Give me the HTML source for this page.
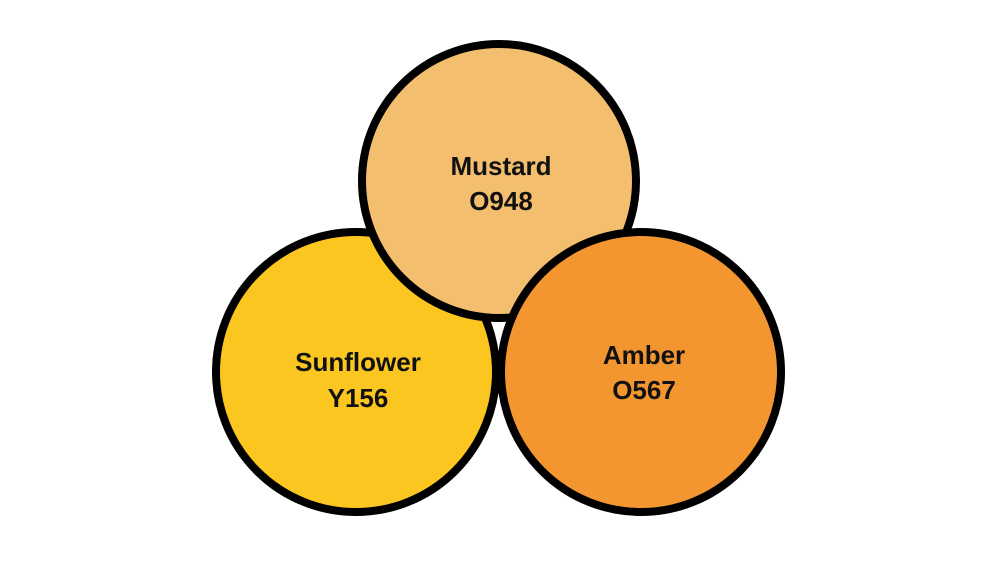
<!DOCTYPE html>
<html>
<head>
<meta charset="utf-8">
<style>
html,body{margin:0;padding:0;background:#fff;}
svg{display:block;}
text{font-family:"Liberation Sans",sans-serif;font-weight:bold;font-size:26px;fill:#111;text-anchor:middle;}
</style>
</head>
<body>
<svg width="1000" height="562" viewBox="0 0 1000 562" xmlns="http://www.w3.org/2000/svg">
  <rect width="1000" height="562" fill="#fff"/>
  <circle cx="356" cy="372" r="140" fill="#FCC620" stroke="#000" stroke-width="8"/>
  <circle cx="499" cy="181" r="137" fill="#F3BE6E" stroke="#000" stroke-width="8"/>
  <circle cx="641" cy="372" r="140" fill="#F3962F" stroke="#000" stroke-width="8"/>
  <text x="501" y="175">Mustard</text>
  <text x="501" y="210">O948</text>
  <text x="358" y="371">Sunflower</text>
  <text x="358" y="407">Y156</text>
  <text x="644" y="364">Amber</text>
  <text x="644" y="399">O567</text>
</svg>
</body>
</html>
